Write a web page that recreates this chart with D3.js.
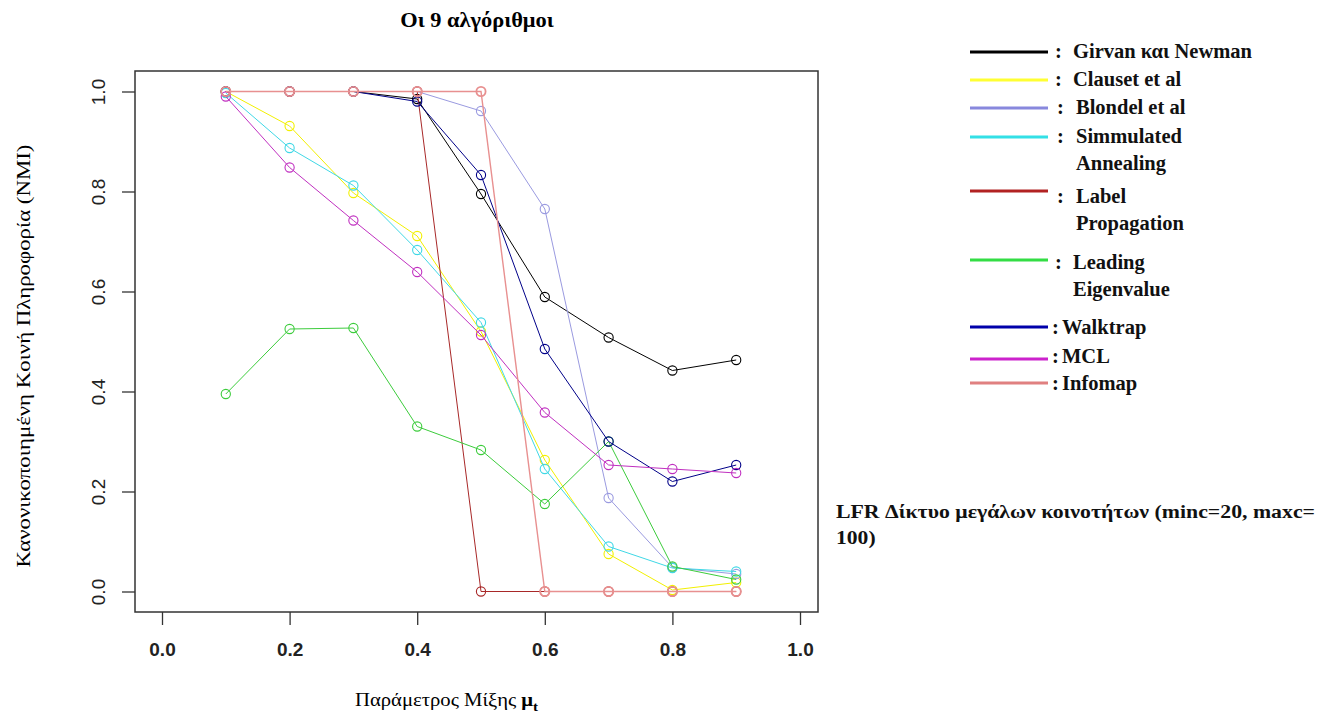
<!DOCTYPE html>
<html>
<head>
<meta charset="utf-8">
<script src="https://cdn.jsdelivr.net/npm/d3@7"></script>
<style>
  body { margin: 0; background: #fff; }
  svg { display: block; }
</style>
</head>
<body>
<svg id="chart" width="1325" height="717"></svg>
<script>
// ---- data ----
const xValues = [0.1, 0.2, 0.3, 0.4, 0.5, 0.6, 0.7, 0.8, 0.9];
const xTicks = [0.0, 0.2, 0.4, 0.6, 0.8, 1.0];
const yTicks = [0.0, 0.2, 0.4, 0.6, 0.8, 1.0];
const seriesNames = ["Girvan και Newman", "Clauset et al", "Blondel et al", "Simmulated Annealing",
  "Label Propagation", "Leading Eigenvalue", "Walktrap", "MCL", "Infomap"];
const girvanNewman = [1.0, 1.0, 1.0, 0.985, 0.795, 0.589, 0.508, 0.442, 0.463];
const clauset      = [1.0, 0.931, 0.797, 0.711, 0.52, 0.263, 0.075, 0.003, 0.018];
const blondel      = [1.0, 1.0, 1.0, 1.0, 0.961, 0.765, 0.187, 0.048, 0.035];
const simAnnealing = [0.997, 0.887, 0.812, 0.683, 0.538, 0.245, 0.09, 0.047, 0.04];
const labelProp    = [1.0, 1.0, 1.0, 1.0, 0.0, 0.0, 0.0, 0.0, 0.0];
const leadingEigen = [0.395, 0.525, 0.527, 0.33, 0.283, 0.175, 0.30, 0.05, 0.024];
const walktrap     = [1.0, 1.0, 1.0, 0.98, 0.833, 0.485, 0.30, 0.22, 0.253];
const mcl          = [0.99, 0.848, 0.742, 0.639, 0.513, 0.358, 0.253, 0.245, 0.237];
const infomap      = [1.0, 1.0, 1.0, 1.0, 1.0, 0.0, 0.0, 0.0, 0.0];
const seriesValues = [girvanNewman, clauset, blondel, simAnnealing, labelProp, leadingEigen, walktrap, mcl, infomap];
const lineColors = ["#000000", "#f2f000", "#9a9ae0", "#40d8e6", "#a82828", "#3ccc3c", "#000088", "#c030c0", "#e89090"];
const legendColors = ["#000000", "#ffff33", "#8888dd", "#33e0e6", "#b22222", "#33dd44", "#0000aa", "#cc22cc", "#e08080"];

// ---- layout ----
const svg = d3.select("#chart");
const box = {left: 135, top: 71, right: 818, bottom: 612};
const x = d3.scaleLinear().domain([0, 1]).range([162, 800]);
const y = d3.scaleLinear().domain([0, 1]).range([591.5, 91.5]);
const serif = "'Liberation Serif', 'Times New Roman', serif";

// plot box
svg.append("rect")
  .attr("x", box.left).attr("y", box.top)
  .attr("width", box.right - box.left).attr("height", box.bottom - box.top)
  .attr("fill", "none").attr("stroke", "#333").attr("stroke-width", 1.5);

// x axis
const xAxis = svg.append("g").attr("transform", `translate(0,${box.bottom})`)
  .call(d3.axisBottom(x).tickValues(xTicks).tickFormat(d3.format(".1f")).tickSize(13).tickPadding(18));
xAxis.select(".domain").remove();
xAxis.selectAll("line").attr("stroke", "#333").attr("stroke-width", 1.3);
xAxis.selectAll("text").attr("font-family", "'Liberation Sans Narrow', 'Liberation Sans', Arial, sans-serif")
  .attr("font-weight", "bold").attr("font-size", 19).attr("fill", "#222");

// y axis
const yAxis = svg.append("g").attr("transform", `translate(${box.left},0)`)
  .call(d3.axisLeft(y).tickValues(yTicks).tickFormat(d3.format(".1f")).tickSize(13).tickPadding(0));
yAxis.select(".domain").remove();
yAxis.selectAll("line").attr("stroke", "#333").attr("stroke-width", 1.3);
yAxis.selectAll("text")
  .attr("font-family", "'Liberation Sans', Arial, sans-serif")
  .attr("font-size", 19).attr("fill", "#222")
  .attr("text-anchor", "middle").attr("x", 0).attr("dy", 0)
  .attr("transform", "translate(-30,0) rotate(-90)");

// series (the last series is drawn a touch heavier so it fully covers overlapping marks)
const line = d3.line().x((d, i) => x(xValues[i])).y(d => y(d));
seriesValues.forEach((vals, s) => {
  const top = s === seriesValues.length - 1;
  const g = svg.append("g");
  g.append("path").datum(vals).attr("d", line)
    .attr("fill", "none").attr("stroke", lineColors[s]).attr("stroke-width", top ? 1.4 : 1);
  g.selectAll("circle").data(vals).enter().append("circle")
    .attr("cx", (d, i) => x(xValues[i])).attr("cy", d => y(d)).attr("r", 4.6)
    .attr("fill", "none").attr("stroke", lineColors[s]).attr("stroke-width", top ? 1.8 : 1.1);
});

// title
svg.append("text").attr("transform", "translate(477,27) scale(1.12,1)").attr("text-anchor", "middle")
  .attr("font-family", serif).attr("font-weight", "bold")
  .attr("font-size", 20).text("Οι 9 αλγόριθμοι");

// y title
svg.append("text").attr("transform", "translate(30,356) rotate(-90)").attr("text-anchor", "middle")
  .attr("font-family", serif).attr("font-size", 19)
  .attr("textLength", 423).attr("lengthAdjust", "spacingAndGlyphs")
  .text("Κανονικοποιημένη Κοινή Πληροφορία (NMI)");

// x title
const xt = svg.append("text").attr("transform", "translate(355,706) scale(1.15,1)")
  .attr("font-family", serif).attr("font-size", 18);
xt.append("tspan").text("Παράμετρος Μίξης ");
xt.append("tspan").attr("font-weight", "bold").text("μ");
xt.append("tspan").attr("font-weight", "bold").attr("font-size", 13).attr("dy", 5).text("t");

// legend
const legendRows = [
  {lineY: 52, lines: ["Girvan και Newman"], textY: [58], colonX: 1055, textX: 1073},
  {lineY: 80, lines: ["Clauset et al"], textY: [86], colonX: 1055, textX: 1073},
  {lineY: 108, lines: ["Blondel et al"], textY: [114], colonX: 1057, textX: 1076},
  {lineY: 137, lines: ["Simmulated", "Annealing"], textY: [143, 170], colonX: 1057, textX: 1076},
  {lineY: 191, lines: ["Label", "Propagation"], textY: [203, 230], colonX: 1057, textX: 1076},
  {lineY: 260, lines: ["Leading", "Eigenvalue"], textY: [269, 296], colonX: 1055, textX: 1073},
  {lineY: 327, lines: ["Walktrap"], textY: [334], colonX: 1052, textX: 1062},
  {lineY: 359, lines: ["MCL"], textY: [363], colonX: 1052, textX: 1062},
  {lineY: 383, lines: ["Infomap"], textY: [390], colonX: 1052, textX: 1062}
];
const lg = svg.append("g").attr("font-family", serif)
  .attr("font-weight", "bold").attr("font-size", 20.5).attr("fill", "#111");
legendRows.forEach((r, i) => {
  lg.append("line").attr("x1", 970).attr("x2", 1048).attr("y1", r.lineY).attr("y2", r.lineY)
    .attr("stroke", legendColors[i]).attr("stroke-width", 3.2);
  lg.append("text").attr("x", r.colonX).attr("y", r.textY[0]).text(":");
  r.lines.forEach((t, j) => {
    lg.append("text").attr("x", r.textX).attr("y", r.textY[j]).text(t);
  });
});

// side note
const note = svg.append("g").attr("font-family", serif)
  .attr("font-weight", "bold").attr("font-size", 18).attr("fill", "#111");
note.append("text").attr("x", 836).attr("y", 518)
  .attr("textLength", 479).attr("lengthAdjust", "spacingAndGlyphs")
  .text("LFR Δίκτυο μεγάλων κοινοτήτων (minc=20, maxc=");
note.append("text").attr("transform", "translate(836,544) scale(1.2,1)").text("100)");
</script>
</body>
</html>
